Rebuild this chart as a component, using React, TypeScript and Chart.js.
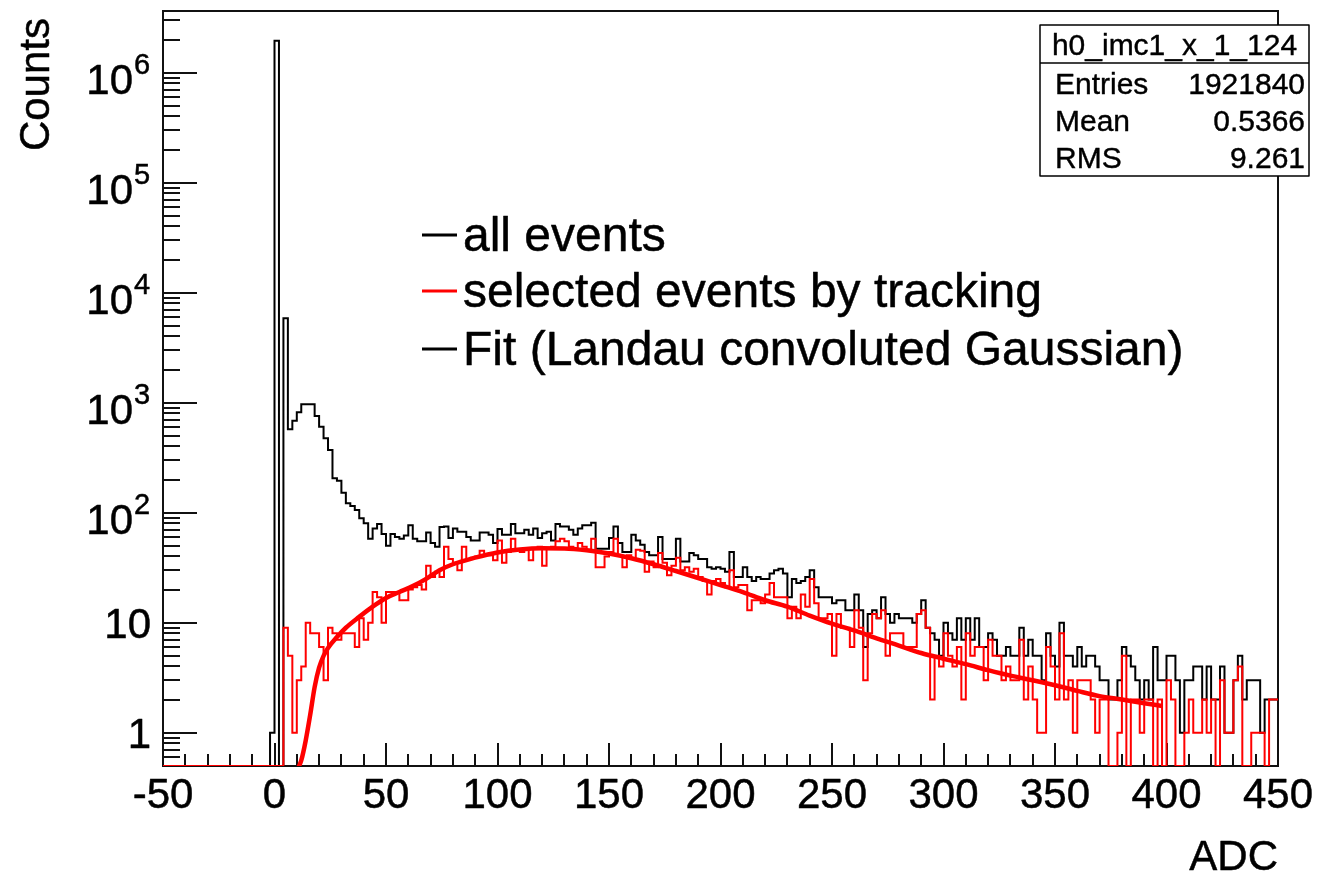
import React, { useEffect, useRef } from "react";
import { Chart, registerables } from "chart.js";

Chart.register(...registerables);

// Histogram binning (ADC units)
const X_MIN = -50;
const X_MAX = 450;
const BIN_WIDTH = 2;

// Log axis range
const Y_MIN = 0.498;
const Y_MAX = 3.64e6;

const xTickLabels = ["-50", "0", "50", "100", "150", "200", "250", "300", "350", "400", "450"];
const yDecadeExponents = [0, 1, 2, 3, 4, 5, 6];

// all events, bins of 2 ADC starting at -50 (ten bins per row)
const allEvents = [
  0, 0, 0, 0, 0, 0, 0, 0, 0, 0,
  0, 0, 0, 0, 0, 0, 0, 0, 0, 0,
  0, 0, 0, 0, 1, 1950000, 0, 5850, 573, 686,
  818, 967, 967, 967, 757, 605, 474, 372, 206, 195,
  152, 122, 115, 106, 89, 80, 58, 72, 79, 64,
  50, 64, 60, 58, 62, 77, 58, 55, 55, 66,
  53, 49, 74, 75, 59, 72, 67, 67, 60, 56,
  56, 66, 66, 63, 53, 71, 63, 63, 79, 65,
  65, 70, 63, 72, 59, 65, 67, 56, 79, 75,
  75, 70, 63, 72, 77, 77, 81, 47, 47, 47,
  59, 75, 53, 44, 44, 63, 56, 51, 44, 41,
  41, 60, 38, 38, 38, 58, 36, 36, 43, 41,
  38, 38, 32, 31, 32, 31, 29, 44, 26, 26,
  32, 26, 24, 26, 25, 25, 28, 30, 31, 28,
  17, 25, 23, 24, 26, 30, 21, 17, 17, 17,
  15, 16, 16, 13, 13, 18, 13, 6, 12, 13,
  11, 17, 12, 10, 12, 11, 11, 11, 10, 12,
  16, 9, 8, 7, 5, 10, 8, 7, 11, 7,
  11, 7, 11, 6, 6, 8, 7, 5, 5, 6,
  5, 5, 9, 5, 7, 5, 5, 3, 8, 5,
  4, 10, 5, 5, 4, 6, 4, 5, 5, 4,
  3, 3, 2, 2, 3, 6, 5, 4, 3, 2,
  3, 2, 6, 3, 3, 5, 5, 3, 1, 3,
  3, 4, 4, 2, 4, 2, 2, 4, 1, 1,
  3, 5, 2, 3, 3, 3, 1, 2, 2, 2,
];

// selected events by tracking, same binning
const selectedEvents = [
  0, 0, 0, 0, 0, 0, 0, 0, 0, 0,
  0, 0, 0, 0, 0, 0, 0, 0, 0, 0,
  0, 0, 0, 0, 0, 0, 0, 9, 5, 1,
  3, 4, 10, 8, 8, 6, 3, 9, 8, 7,
  8, 8, 8, 6, 11, 7, 10, 19, 17, 10,
  19, 19, 19, 16, 16, 20, 21, 22, 20, 33,
  26, 29, 26, 49, 38, 35, 30, 49, 38, 39,
  40, 45, 42, 41, 37, 56, 35, 44, 58, 46,
  44, 46, 37, 47, 49, 33, 47, 49, 55, 58,
  55, 49, 47, 53, 49, 46, 58, 32, 32, 40,
  44, 58, 41, 32, 41, 38, 46, 45, 29, 36,
  32, 43, 35, 27, 33, 39, 30, 32, 29, 31,
  26, 24, 18, 24, 25, 23, 21, 30, 21, 22,
  22, 13, 16, 16, 15, 18, 23, 17, 17, 17,
  11, 14, 11, 18, 14, 25, 15, 11, 11, 12,
  5, 12, 9, 9, 6, 13, 9, 3, 8, 12,
  11, 13, 5, 8, 8, 8, 6, 6, 6, 12,
  13, 9, 2, 5, 4, 8, 5, 4, 6, 2,
  8, 5, 6, 6, 3, 7, 5, 5, 3, 4,
  3, 3, 7, 2, 4, 2, 1, 1, 6, 4,
  2, 8, 2, 3, 1, 3, 3, 3, 2, 1,
  2, 2, 0, 0, 1, 5, 0, 2, 2, 1,
  2, 2, 0, 2, 0, 3, 2, 0, 0, 1,
  2, 1, 1, 2, 1, 2, 0, 3, 1, 1,
  3, 4, 0, 0, 1, 1, 1, 0, 2, 2,
];

// Landau convoluted Gaussian fit curve
const fitAdc = [
  10, 12, 14, 16, 18, 20, 22, 24, 28, 32, 38, 44, 50, 56, 62, 68, 74, 80, 90, 100,
  110, 120, 130, 140, 150, 160, 170, 180, 190, 200, 210, 220, 230, 240, 250, 260, 270, 280, 290, 300,
  310, 320, 330, 340, 350, 360, 370, 380, 390, 398,
];
const fitCounts = [
  0.45, 0.56, 0.85, 1.45, 2.6, 3.9, 5.0, 5.9, 7.4, 9.0, 11.3, 14.0, 16.8, 19.0, 21.5, 25, 30, 34, 39, 43.5,
  46.3, 47.5, 47.3, 45.5, 42.5, 38.5, 34, 29.5, 25.5, 22, 19, 16, 14, 11.6, 9.8, 8.5, 7.2, 6.2, 5.3, 4.7,
  4.2, 3.7, 3.3, 3.0, 2.7, 2.4, 2.15, 2.0, 1.85, 1.75,
];

const statsTitle = "h0_imc1_x_1_124";
const statsRows: [string, string][] = [
  ["Entries", "1921840"],
  ["Mean", "0.5366"],
  ["RMS", "9.261"],
];

const legendItems = [
  { label: "all events", color: "#000000" },
  { label: "selected events by tracking", color: "#ff0000" },
  { label: "Fit (Landau convoluted Gaussian)", color: "#000000" },
];

const FONT = "'Liberation Sans', Arial, Helvetica, sans-serif";

// Outline of a histogram as stepped points at the bin low edges, closed at X_MAX
function histogramPoints(values: number[]) {
  const pts = values.map((v, i) => ({ x: X_MIN + i * BIN_WIDTH, y: Math.max(v, Y_MIN) }));
  const last = values[values.length - 1];
  pts.push({ x: X_MIN + values.length * BIN_WIDTH, y: Math.max(last, Y_MIN) });
  return pts;
}

// Text with a hairline outline so glyphs read as heavy as the canvas print
function heavyText(ctx: CanvasRenderingContext2D, text: string, x: number, y: number) {
  ctx.fillText(text, x, y);
  ctx.strokeText(text, x, y);
}

const axesPlugin = {
  id: "rootAxes",
  beforeDatasetsDraw(chart: any) {
    const { ctx, chartArea: a, scales } = chart;
    const xs = scales.x;
    const ys = scales.y;
    ctx.save();
    ctx.strokeStyle = "#111";
    ctx.lineWidth = 2;
    ctx.strokeRect(a.left, a.top, a.right - a.left, a.bottom - a.top);

    ctx.beginPath();
    for (let v = X_MIN; v <= X_MAX; v += 10) {
      const px = Math.round(xs.getPixelForValue(v));
      const len = v % 50 === 0 ? 23 : 12;
      ctx.moveTo(px, a.bottom);
      ctx.lineTo(px, a.bottom - len);
    }
    for (let d = -1; d <= 6; d++) {
      for (let m = 1; m <= 9; m++) {
        const v = m * Math.pow(10, d);
        if (v < Y_MIN || v > Y_MAX) continue;
        const py = Math.round(ys.getPixelForValue(v));
        const len = m === 1 ? 34 : 17;
        ctx.moveTo(a.left, py);
        ctx.lineTo(a.left + len, py);
      }
    }
    ctx.stroke();
    ctx.restore();
  },
  afterDraw(chart: any) {
    const { ctx, chartArea: a, scales } = chart;
    const xs = scales.x;
    const ys = scales.y;
    ctx.save();
    ctx.fillStyle = "#000";
    ctx.strokeStyle = "#000";
    ctx.lineWidth = 0.5;
    ctx.lineJoin = "round";

    // x tick labels
    ctx.font = `42px ${FONT}`;
    ctx.textAlign = "center";
    ctx.textBaseline = "alphabetic";
    xTickLabels.forEach((t) => {
      heavyText(ctx, t, xs.getPixelForValue(Number(t)), 808);
    });

    // y tick labels
    yDecadeExponents.forEach((e) => {
      const py = ys.getPixelForValue(Math.pow(10, e));
      ctx.font = `42px ${FONT}`;
      ctx.textAlign = "right";
      if (e === 0 || e === 1) {
        heavyText(ctx, e === 0 ? "1" : "10", 151, py + 15);
      } else {
        heavyText(ctx, "10", 133, py + 21);
        ctx.font = `29px ${FONT}`;
        ctx.textAlign = "left";
        heavyText(ctx, String(e), 134, py + 1);
      }
    });

    // axis titles
    ctx.font = `42px ${FONT}`;
    ctx.textAlign = "right";
    heavyText(ctx, "ADC", a.right, 870);
    ctx.save();
    ctx.translate(49, 18);
    ctx.rotate(-Math.PI / 2);
    ctx.textAlign = "right";
    heavyText(ctx, "Counts", 0, 0);
    ctx.restore();

    // legend
    const legendY = [235, 291, 349];
    legendItems.forEach((item, i) => {
      ctx.strokeStyle = item.color;
      ctx.lineWidth = 3;
      ctx.beginPath();
      ctx.moveTo(422, legendY[i]);
      ctx.lineTo(457, legendY[i]);
      ctx.stroke();
      ctx.fillStyle = "#000";
      ctx.strokeStyle = "#000";
      ctx.lineWidth = 0.5;
      ctx.font = `48px ${FONT}`;
      ctx.textAlign = "left";
      heavyText(ctx, item.label, 463, legendY[i] + 16);
    });

    // statistics box
    const bx = 1040, by = 25, bw = 269, bh = 151;
    ctx.fillStyle = "#fff";
    ctx.fillRect(bx, by, bw, bh);
    ctx.strokeStyle = "#000";
    ctx.lineWidth = 1.5;
    ctx.strokeRect(bx, by, bw, bh);
    ctx.beginPath();
    ctx.moveTo(bx, 63);
    ctx.lineTo(bx + bw, 63);
    ctx.stroke();
    ctx.fillStyle = "#000";
    ctx.lineWidth = 0.4;
    ctx.font = `30px ${FONT}`;
    ctx.textAlign = "center";
    heavyText(ctx, statsTitle, bx + bw / 2, 55);
    const rowBase = [94, 131, 168];
    statsRows.forEach(([k, v], i) => {
      ctx.textAlign = "left";
      heavyText(ctx, k, 1055, rowBase[i]);
      ctx.textAlign = "right";
      heavyText(ctx, v, 1305, rowBase[i]);
    });
    ctx.restore();
  },
};

export default function App() {
  const canvasRef = useRef<HTMLCanvasElement | null>(null);

  useEffect(() => {
    const canvas = canvasRef.current;
    if (!canvas) return;
    const fitData = fitAdc.map((x, i) => ({ x, y: fitCounts[i] }));
    const chart = new Chart(canvas, {
      type: "line",
      data: {
        datasets: [
          {
            label: "Fit (Landau convoluted Gaussian)",
            data: fitData,
            borderColor: "#ff0000",
            borderWidth: 4.5,
            pointRadius: 0,
            cubicInterpolationMode: "monotone",
            fill: false,
            order: 0,
          },
          {
            label: "selected events by tracking",
            data: histogramPoints(selectedEvents),
            borderColor: "#ff0000",
            borderWidth: 2,
            pointRadius: 0,
            stepped: true,
            borderJoinStyle: "miter",
            fill: false,
            order: 1,
          },
          {
            label: "all events",
            data: histogramPoints(allEvents),
            borderColor: "#000000",
            borderWidth: 2,
            pointRadius: 0,
            stepped: true,
            borderJoinStyle: "miter",
            fill: false,
            order: 2,
          },
        ],
      } as any,
      options: {
        animation: false,
        responsive: false,
        devicePixelRatio: 1,
        events: [],
        layout: { padding: { left: 163, right: 41, top: 11, bottom: 110 } },
        scales: {
          x: { type: "linear", min: X_MIN, max: X_MAX, display: false },
          y: { type: "logarithmic", min: Y_MIN, max: Y_MAX, display: false },
        },
        plugins: { legend: { display: false }, tooltip: { enabled: false } },
      } as any,
      plugins: [axesPlugin],
    });
    return () => chart.destroy();
  }, []);

  return (
    <div style={{ position: "absolute", left: 0, top: 0, width: 1319, height: 876, background: "#fff" }}>
      <canvas ref={canvasRef} width={1319} height={876} style={{ display: "block", width: 1319, height: 876 }} />
    </div>
  );
}
